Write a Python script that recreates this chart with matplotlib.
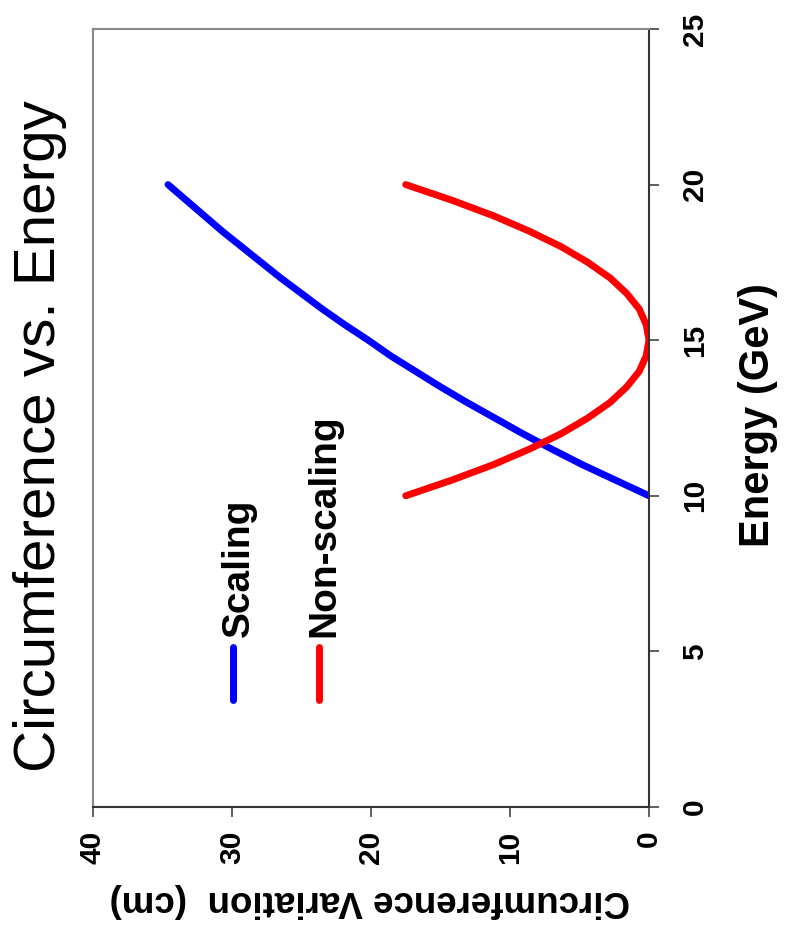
import matplotlib
matplotlib.use("Agg")
import matplotlib.pyplot as plt

# energia (GeV) y variacion de circunferencia (cm)
energia = [10.0, 10.5, 11.0, 11.5, 12.0, 12.5, 13.0, 13.5, 14.0, 14.5, 15.0,
           15.5, 16.0, 16.5, 17.0, 17.5, 18.0, 18.5, 19.0, 19.5, 20.0]
circ_scaling = [0.0, 2.4, 4.8, 7.0, 9.1, 11.1, 13.1, 15.0, 16.8, 18.6, 20.2,
                21.9, 23.5, 25.0, 26.5, 27.9, 29.3, 30.7, 32.0, 33.3, 34.6]
circ_nonscaling = [17.5, 14.2, 11.2, 8.6, 6.3, 4.4, 2.8, 1.6, 0.7, 0.2, 0.0,
                   0.2, 0.7, 1.6, 2.8, 4.4, 6.3, 8.6, 11.2, 14.2, 17.5]

ticks_circ = [40, 30, 20, 10, 0]
ticks_energia = [0, 5, 10, 15, 20, 25]

plt.rcParams['font.family'] = ['Liberation Sans', 'DejaVu Sans']

fig = plt.figure(figsize=(7.86, 9.38), dpi=100)
ax = fig.add_axes([0.1183, 0.1397, 0.7074, 0.8294])

ax.plot(circ_scaling, energia, color='#0000ff', lw=5, solid_capstyle='round',
        solid_joinstyle='round')
ax.plot(circ_nonscaling, energia, color='#ff0000', lw=5, solid_capstyle='round',
        solid_joinstyle='round')

ax.set_xlim(40, 0)
ax.set_ylim(0, 25)
ax.set_xticks(ticks_circ)
ax.set_yticks(ticks_energia)
ax.yaxis.tick_right()
ax.yaxis.set_label_position('right')

for lado in ['top', 'left']:
    ax.spines[lado].set_color('#888888')
    ax.spines[lado].set_linewidth(1.5)
for lado in ['bottom', 'right']:
    ax.spines[lado].set_color('#333333')
    ax.spines[lado].set_linewidth(1.5)

ax.tick_params(axis='x', direction='out', length=7, width=1.1, color='#333333',
               labelsize=21.5, pad=10, labelrotation=90)
ax.tick_params(axis='y', direction='out', length=7, width=1.1, color='#333333',
               labelsize=21.5, pad=16, labelrotation=90)
for t in ax.get_xticklabels() + ax.get_yticklabels():
    t.set_fontweight('bold')
for t in ax.get_yticklabels():
    t.set_verticalalignment('center')

ax.set_xlabel('Circumference Variation  (cm)', fontsize=26.5, fontweight='bold',
              rotation=180, ha='center', va='center')
ax.xaxis.set_label_coords(0.498, -0.1208)
ax.set_ylabel('Energy (GeV)', fontsize=30, fontweight='bold', rotation=90,
              ha='center', va='center')
ax.yaxis.set_label_coords(1.196, 0.504)

# leyenda dibujada a mano, vertical
ax.plot([0.2518, 0.2518], [0.1375, 0.2057], transform=ax.transAxes,
        color='#0000ff', lw=5, solid_capstyle='round')
ax.plot([0.4065, 0.4065], [0.1375, 0.2057], transform=ax.transAxes,
        color='#ff0000', lw=5, solid_capstyle='round')
ax.text(0.2626, 0.2185, 'Scaling', transform=ax.transAxes, rotation=90,
        ha='center', va='bottom', fontsize=28, fontweight='bold')
ax.text(0.417, 0.2185, 'Non-scaling', transform=ax.transAxes, rotation=90,
        ha='center', va='bottom', fontsize=28, fontweight='bold')

fig.text(0.0509, 0.535, 'Circumference vs. Energy', rotation=90,
         ha='center', va='center', fontsize=42)

fig.savefig('out.png', dpi=100)
